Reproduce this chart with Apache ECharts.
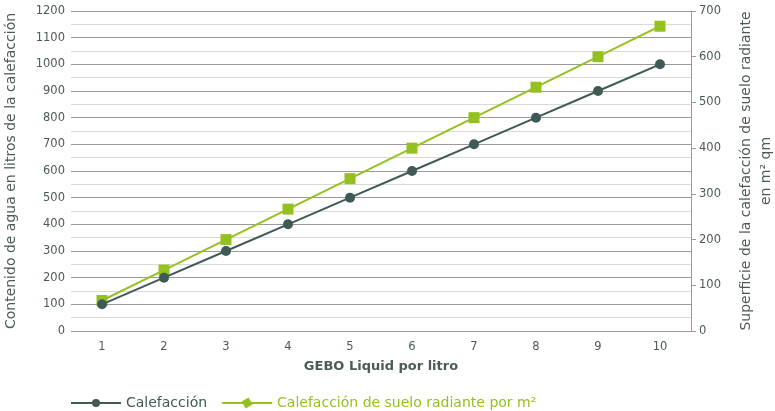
<!DOCTYPE html>
<html>
<head>
<meta charset="utf-8">
<script src="https://cdn.jsdelivr.net/npm/echarts@6/dist/echarts.min.js"></script>
<style>
  html, body { margin: 0; padding: 0; background: #fff; }
  #chart { width: 775px; height: 411px; }
</style>
</head>
<body>
<div id="chart"></div>
<script>
// Litros de GEBO Liquid
const categories = ['1', '2', '3', '4', '5', '6', '7', '8', '9', '10'];
// Contenido de agua en litros (eje izquierdo)
const calefaccion = [100, 200, 300, 400, 500, 600, 700, 800, 900, 1000];
// Superficie de suelo radiante en m² (eje derecho)
const sueloRadiante = [66.7, 133.3, 200, 266.7, 333.3, 400, 466.7, 533.3, 600, 666.7];

const textColor = '#4b5a58';
const darkColor = '#3e5a56';
const greenColor = '#94c11f';
const font = 'DejaVu Sans';

const chart = echarts.init(document.getElementById('chart'), null, { renderer: 'canvas' });
chart.setOption({
  animation: false,
  textStyle: { fontFamily: font, color: textColor },
  grid: { left: 71, right: 84, top: 11, bottom: 80, containLabel: false, outerBoundsMode: 'none' },
  legend: {
    left: 65,
    top: 391,
    itemWidth: 50,
    itemHeight: 10,
    itemGap: 14,
    textStyle: { color: 'inherit', fontSize: 14, fontFamily: font },
    data: [
      { name: 'Calefacción' },
      { name: 'Calefacción de suelo radiante por m²', symbolRotate: 30 }
    ]
  },
  xAxis: {
    type: 'category',
    data: categories,
    name: 'GEBO Liquid por litro',
    nameLocation: 'middle',
    nameGap: 29,
    nameTextStyle: { fontSize: 13, fontWeight: 'bold', color: textColor },
    axisLine: { show: false },
    axisTick: { show: false },
    axisLabel: { fontSize: 11.5, color: textColor, margin: 10 }
  },
  yAxis: [
    {
      type: 'value',
      min: 0, max: 1200, interval: 100,
      name: 'Contenido de agua en litros de la calefacción',
      nameLocation: 'middle',
      nameGap: 53,
      nameRotate: 90,
      nameTextStyle: { fontSize: 14, color: textColor },
      axisLine: { show: false },
      axisTick: { show: false },
      axisLabel: { fontSize: 11.5, color: textColor, margin: 6, formatter: v => String(v) },
      splitLine: { show: true, lineStyle: { color: '#9a9a9a', width: 1 } },
      minorTick: { show: false, splitNumber: 2 },
      minorSplitLine: { show: true, lineStyle: { color: '#d9d9d9', width: 1 } }
    },
    {
      type: 'value',
      min: 0, max: 700, interval: 100,
      position: 'right',
      name: 'Superficie de la calefacción de suelo radiante\nen m² qm',
      nameLocation: 'middle',
      nameGap: 45,
      nameRotate: 90,
      nameTextStyle: { fontSize: 14, color: textColor, lineHeight: 20, align: 'center' },
      axisLine: { show: true, lineStyle: { color: '#9a9a9a', width: 1 } },
      axisTick: { show: true, inside: false, length: 5, lineStyle: { color: '#9a9a9a' } },
      axisLabel: { fontSize: 11.5, color: textColor, margin: 8, formatter: v => String(v) },
      splitLine: { show: false }
    }
  ],
  series: [
    {
      name: 'Calefacción',
      type: 'line',
      yAxisIndex: 0,
      data: calefaccion,
      symbol: 'circle',
      symbolSize: 10,
      lineStyle: { color: darkColor, width: 2 },
      itemStyle: { color: darkColor },
      z: 3
    },
    {
      name: 'Calefacción de suelo radiante por m²',
      type: 'line',
      yAxisIndex: 1,
      data: sueloRadiante,
      symbol: 'rect',
      symbolSize: 11,
      lineStyle: { color: greenColor, width: 2 },
      itemStyle: { color: greenColor },
      z: 2
    }
  ]
});
</script>
</body>
</html>
